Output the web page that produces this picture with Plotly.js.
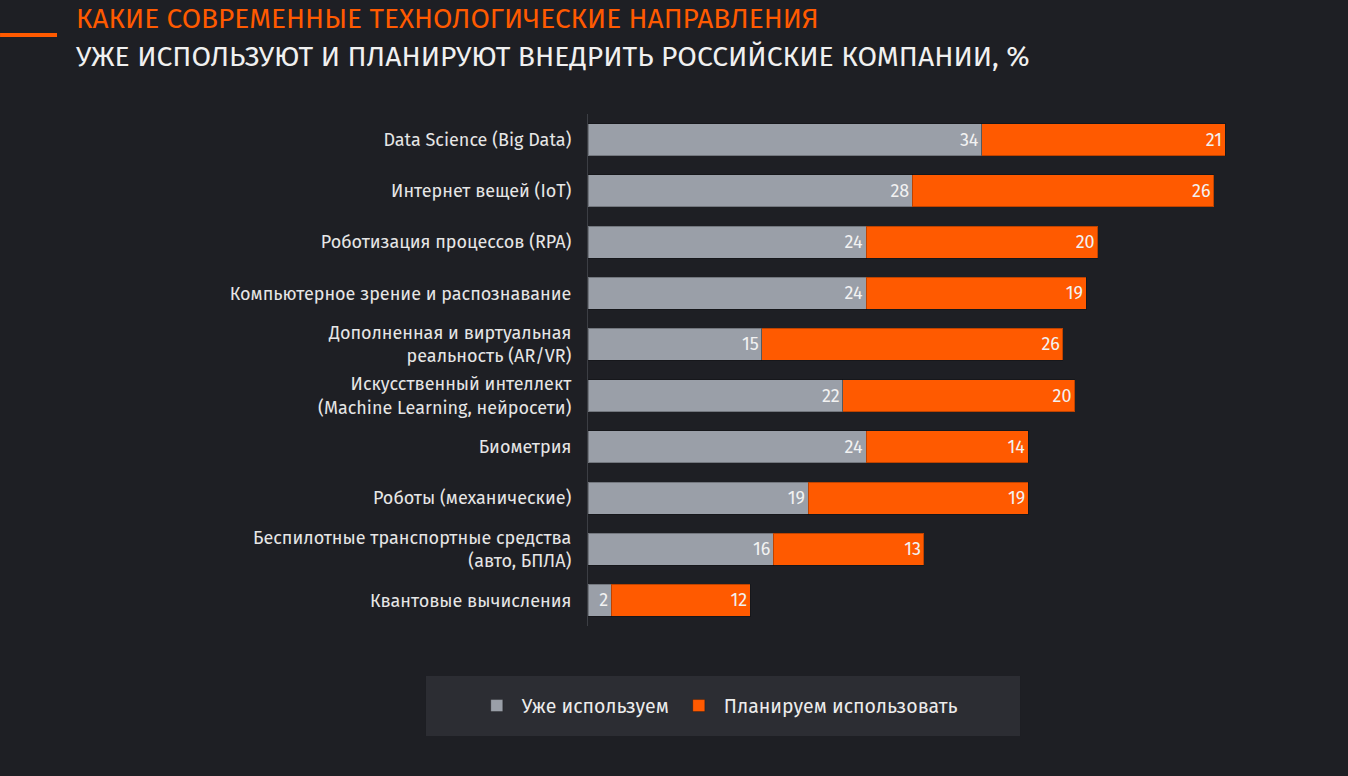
<!DOCTYPE html>
<html><head><meta charset="utf-8">
<script src="https://cdn.plot.ly/plotly-3.0.1.min.js"></script>
<style>html,body{margin:0;padding:0;background:#1e1f24;}#chart{width:1348px;height:776px;}</style>
</head><body><div id="chart"></div>
<script>
const categories = [
  "Data Science (Big Data)",
  "Интернет вещей (IoT)",
  "Роботизация процессов (RPA)",
  "Компьютерное зрение и распознавание",
  "Дополненная и виртуальная<br>реальность (AR/VR)",
  "Искусственный интеллект<br>(Machine Learning, нейросети)",
  "Биометрия",
  "Роботы (механические)",
  "Беспилотные транспортные средства<br>(авто, БПЛА)",
  "Квантовые вычисления"
];
const alreadyUse = [34, 28, 24, 24, 15, 22, 24, 19, 16, 2];
const planToUse = [21, 26, 20, 19, 26, 20, 14, 19, 13, 12];
const seriesNames = ["Уже используем", "Планируем использовать"];
const titleLine1 = "КАКИЕ СОВРЕМЕННЫЕ ТЕХНОЛОГИЧЕСКИЕ НАПРАВЛЕНИЯ";
const titleLine2 = "УЖЕ ИСПОЛЬЗУЮТ И ПЛАНИРУЮТ ВНЕДРИТЬ РОССИЙСКИЕ КОМПАНИИ, %";

const GRAY = "#9a9fa8", ORANGE = "#ff5a00", FONT = "Fira Sans, Open Sans, Noto Sans, sans-serif";

const mk = (vals, name, color) => ({
  type: "bar", orientation: "h", y: categories, x: vals, name: name,
  marker: {color: color, line: {color: "rgba(0,0,0,0.25)", width: 1}},
  text: vals.map(String), textposition: "inside", insidetextanchor: "end",
  textfont: {family: FONT, size: 18, color: "#f2f2f2"}, constraintext: "none",
  hoverinfo: "x+y"
});

const data = [mk(alreadyUse, seriesNames[0], GRAY), mk(planToUse, seriesNames[1], ORANGE)];

const layout = {
  width: 1348, height: 776,
  paper_bgcolor: "#1e1f24", plot_bgcolor: "#1e1f24",
  margin: {l: 588, r: 65, t: 114, b: 150},
  barmode: "stack", bargap: 0.375,
  font: {family: FONT, color: "#e6e6e6"},
  xaxis: {range: [0, 60], visible: false, fixedrange: true},
  yaxis: {autorange: "reversed", showline: true, linecolor: "#3c3e44", linewidth: 1,
          ticks: "", ticklabelstandoff: 12, tickfont: {family: FONT, size: 18, color: "#e6e6e6"},
          showgrid: false, zeroline: false, fixedrange: true},
  showlegend: true,
  legend: {orientation: "h", x: 0.186, y: -0.156, xanchor: "center", yanchor: "middle",
           bgcolor: "rgba(0,0,0,0)", font: {family: FONT, size: 19.5, color: "#ececec"},
           traceorder: "normal", itemwidth: 40},
  shapes: [
    {type: "rect", xref: "paper", yref: "paper", x0: -0.2331, x1: 0.6216, y0: -0.0977, y1: -0.2148,
     fillcolor: "#2c2d33", line: {width: 0}, layer: "below"},
    {type: "line", xref: "paper", yref: "paper", x0: -0.846, x1: -0.764, y0: 1.1543, y1: 1.1543,
     line: {color: ORANGE, width: 4}}
  ],
  annotations: [
    {text: titleLine1, xref: "paper", yref: "paper", x: -0.7395, y: 1.1856, xanchor: "left", yanchor: "middle",
     showarrow: false, font: {family: FONT, size: 28, color: ORANGE}},
    {text: titleLine2, xref: "paper", yref: "paper", x: -0.7395, y: 1.1115, xanchor: "left", yanchor: "middle",
     showarrow: false, font: {family: FONT, size: 28.3, color: "#f0f0f0"}}
  ]
};

Plotly.newPlot("chart", data, layout, {displayModeBar: false, staticPlot: true});
</script></body></html>
